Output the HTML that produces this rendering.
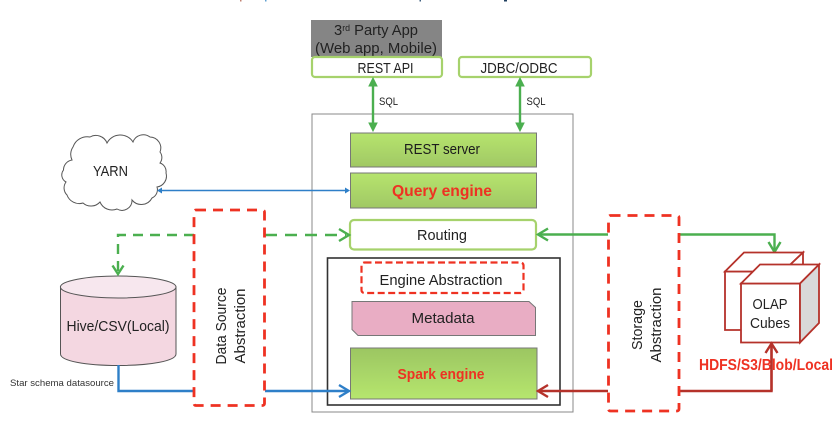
<!DOCTYPE html>
<html><head><meta charset="utf-8">
<style>
html,body{margin:0;padding:0;background:#fff;width:839px;height:429px;overflow:hidden}
svg{display:block}
text{font-family:"Liberation Sans",sans-serif;fill:#222;text-anchor:middle}
.g{stroke:#4caf50;stroke-width:2.4;fill:none}
.b{stroke:#2f7fc8;stroke-width:2.4;fill:none}
.r{stroke:#b5302a;stroke-width:2.4;fill:none}
.dash{stroke:#ee3124;stroke-width:2.8;stroke-dasharray:10 7;fill:#fff}
</style></head><body>
<svg width="839" height="429" viewBox="0 0 839 429" xmlns="http://www.w3.org/2000/svg">
<defs>
<linearGradient id="gt" x1="0" y1="0" x2="0" y2="1"><stop offset="0" stop-color="#b6e46e"/><stop offset="1" stop-color="#a0c864"/></linearGradient>
<linearGradient id="gb" x1="0" y1="0" x2="0" y2="1"><stop offset="0" stop-color="#9cc662"/><stop offset="1" stop-color="#b6e66e"/></linearGradient>
<filter id="s" x="-5%" y="-5%" width="110%" height="110%"><feGaussianBlur stdDeviation="0.3"/></filter>
</defs>
<!-- clipped remnants at top edge -->
<rect x="240" y="0" width="1.500" height="1.500" fill="#c08070"/>
<rect x="265" y="0" width="1.500" height="1.500" fill="#60a0d0"/>
<rect x="419.500" y="0" width="1.500" height="1.500" fill="#406080"/>
<rect x="504" y="0" width="3" height="1.500" fill="#204060"/>
<g filter="url(#s)">
<!-- top -->
<rect x="311" y="20" width="131" height="37" fill="#858585"/>
<text x="376" y="35" font-size="15" textLength="84" lengthAdjust="spacingAndGlyphs">3<tspan font-size="9" dy="-4">rd</tspan><tspan dy="4"> Party App</tspan></text>
<text x="376" y="53" font-size="15" textLength="122" lengthAdjust="spacingAndGlyphs">(Web app, Mobile)</text>
<rect x="312" y="57" width="130" height="20" rx="3" fill="#fff" stroke="#a6d26c" stroke-width="2.2"/>
<text x="385.500" y="73" font-size="14.500" textLength="56" lengthAdjust="spacingAndGlyphs">REST API</text>
<rect x="459" y="57" width="132" height="20" rx="3" fill="#fff" stroke="#a6d26c" stroke-width="2.2"/>
<text x="519" y="73" font-size="14.500" textLength="77" lengthAdjust="spacingAndGlyphs">JDBC/ODBC</text>

<!-- outer -->
<rect x="312" y="114" width="261" height="298" fill="#fff" stroke="#888" stroke-width="1"/>

<!-- SQL arrows -->
<path d="M373 82V127" class="g"/>
<path d="M373 78l-4 8h8z M373 131l-4-8h8z" fill="#4caf50" stroke="#4caf50"/>
<path d="M520 82V127" class="g"/>
<path d="M520 78l-4 8h8z M520 131l-4-8h8z" fill="#4caf50" stroke="#4caf50"/>
<text x="388.500" y="105" font-size="11" textLength="19" lengthAdjust="spacingAndGlyphs">SQL</text>
<text x="536" y="105" font-size="11" textLength="19" lengthAdjust="spacingAndGlyphs">SQL</text>

<!-- engines -->
<rect x="350.500" y="133" width="186" height="34" fill="url(#gt)" stroke="#777" stroke-width="1"/>
<text x="442" y="154" font-size="14.500" textLength="76" lengthAdjust="spacingAndGlyphs" style="fill:#1a1a1a">REST server</text>
<rect x="350.500" y="173" width="186" height="35" fill="url(#gt)" stroke="#777" stroke-width="1"/>
<text x="442" y="196" font-size="16" font-weight="bold" textLength="100" lengthAdjust="spacingAndGlyphs" style="fill:#ee3124">Query engine</text>
<rect x="350" y="220" width="186" height="29.500" rx="4" fill="#fff" stroke="#a6d26c" stroke-width="2.2"/>
<text x="442" y="240" font-size="14.500" textLength="50" lengthAdjust="spacingAndGlyphs">Routing</text>

<rect x="327.500" y="258" width="232.500" height="147" fill="#fff" stroke="#333" stroke-width="1.600"/>
<rect x="361.500" y="262.500" width="162" height="30.500" rx="3" fill="#fff" stroke="#ee3124" stroke-width="2.200" stroke-dasharray="7 3.500"/>
<text x="441" y="285" font-size="14.500" textLength="123" lengthAdjust="spacingAndGlyphs">Engine Abstraction</text>
<path d="M352 301.500H529L535.500 307.500V335.500H358L352 329.500Z" fill="#e9adc4" stroke="#777" stroke-width="1"/>
<text x="443" y="323" font-size="15" textLength="63" lengthAdjust="spacingAndGlyphs">Metadata</text>
<rect x="350.500" y="348" width="186.500" height="51" fill="url(#gb)" stroke="#777" stroke-width="1"/>
<text x="441" y="379" font-size="15" font-weight="bold" textLength="87" lengthAdjust="spacingAndGlyphs" style="fill:#ee3124">Spark engine</text>

<!-- cloud -->
<path d="M63.500 170A10 10 0 0 1 72 160A13 13 0 0 1 73 147A15 15 0 0 1 90 137A12 12 0 0 1 107 143A15 15 0 0 1 133 142A11 11 0 0 1 150 137A11 11 0 0 1 160 152A9 9 0 0 1 160 163A9 9 0 0 1 166 173A11 11 0 0 1 157 187A9 9 0 0 1 152 198A12 12 0 0 1 132 200A10 10 0 0 1 117 209A13 13 0 0 1 100 202A12 12 0 0 1 83 203A13 13 0 0 1 67 195A10 10 0 0 1 66 182A8 8 0 0 1 63.500 170Z" fill="#fff" stroke="#555" stroke-width="1"/>
<text x="110.500" y="176" font-size="15" textLength="35" lengthAdjust="spacingAndGlyphs">YARN</text>
<path d="M160 190.500H347" stroke="#2f7fc8" stroke-width="1.400" fill="none"/>
<path d="M157 190.500l5-3v6z M350 190.500l-5-3v6z" fill="#2f7fc8"/>

<!-- cylinder -->
<path d="M60.500 287V354C60.500 361 86 365.500 118 365.500S176 361 176 354V287Z" fill="#f4d7e1" stroke="#555" stroke-width="1"/>
<ellipse cx="118.200" cy="287" rx="57.800" ry="11" fill="#f7e7ee" stroke="#555" stroke-width="1"/>
<text x="118" y="331" font-size="14.500" textLength="103" lengthAdjust="spacingAndGlyphs">Hive/CSV(Local)</text>
<text x="62" y="386" font-size="9.500" textLength="104" lengthAdjust="spacingAndGlyphs" style="fill:#333">Star schema datasource</text>

<!-- connectors -->
<path d="M194 235H118V272" class="g" stroke-dasharray="10 7"/>
<path d="M112.500 265.500L118 274L123.500 265.500" class="g" stroke-width="3"/>
<path d="M265 235H346" class="g" stroke-dasharray="12 8"/>
<path d="M339 229L349 235L339 241" class="g" stroke-width="3"/>
<path d="M118.500 365V391H194" class="b"/>
<path d="M265 391H347" class="b"/>
<path d="M339 385L349 391L339 397" class="b" stroke-width="3"/>
<path d="M540 234.500H608" class="g"/>
<path d="M548 228.500L538 234.500L548 240.500" class="g" stroke-width="3"/>
<path d="M679 234.500H774.500V250" class="g"/>
<path d="M768.500 242L774.500 252L780.500 242" class="g" stroke-width="3"/>
<path d="M540 391H608" class="r"/>
<path d="M548 385L538 391L548 397" class="r" stroke-width="3"/>
<path d="M679 391H771.500V346" class="r"/>

<!-- dashed boxes -->
<rect x="194" y="210" width="70.500" height="195.500" rx="2" class="dash"/>
<text transform="translate(226 326) rotate(-90)" x="0" y="0" font-size="14.500" textLength="77" lengthAdjust="spacingAndGlyphs">Data Source</text>
<text transform="translate(245 326) rotate(-90)" x="0" y="0" font-size="14.500" textLength="75" lengthAdjust="spacingAndGlyphs">Abstraction</text>
<rect x="608.500" y="215.500" width="70.500" height="195.500" rx="2" class="dash"/>
<text transform="translate(642 325) rotate(-90)" x="0" y="0" font-size="14.500" textLength="50" lengthAdjust="spacingAndGlyphs">Storage</text>
<text transform="translate(661 325) rotate(-90)" x="0" y="0" font-size="14.500" textLength="75" lengthAdjust="spacingAndGlyphs">Abstraction</text>

<!-- cubes -->
<g stroke="#b5302a" stroke-width="1.800" stroke-linejoin="miter">
<path d="M725 271.500H783V330H725Z" fill="#fff"/>
<path d="M725 271.500L744 252.500H803L783 271.500Z" fill="#fff"/>
<path d="M783 271.500L803 252.500V312L783 330Z" fill="#fff"/>
<path d="M741 283.500H800V342.500H741Z" fill="#fff"/>
<path d="M741 283.500L760 264.500H819L800 283.500Z" fill="#fff"/>
<path d="M800 283.500L819 264.500V323L800 342.500Z" fill="#d9d9d9"/>
</g>
<text x="770" y="309" font-size="14.500" textLength="35" lengthAdjust="spacingAndGlyphs">OLAP</text>
<text x="770" y="328" font-size="14.500" textLength="40" lengthAdjust="spacingAndGlyphs">Cubes</text>
<text x="766" y="370" font-size="16" font-weight="bold" textLength="134" lengthAdjust="spacingAndGlyphs" style="fill:#ee3124">HDFS/S3/Blob/Local</text>
<path d="M771.500 391V345" class="r"/>
<path d="M765.500 353L771.500 343.500L777.500 353" class="r" stroke-width="3"/>
</g>
</svg>
</body></html>
